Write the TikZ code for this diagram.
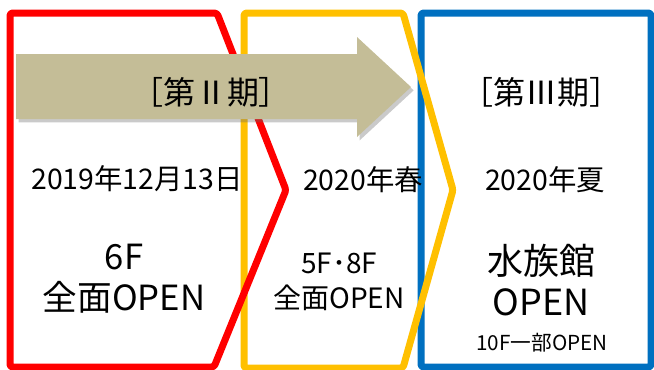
\documentclass[tikz,border=0pt]{standalone}
\usepackage{fontspec}
\setmainfont{Noto Sans CJK JP}
\usepackage{tikz}
\usetikzlibrary{shadows}
\definecolor{phaseRed}{HTML}{FF0000}
\definecolor{phaseYellow}{HTML}{FFC000}
\definecolor{phaseBlue}{HTML}{0070C0}
\definecolor{arrowTan}{HTML}{C4BD97}

\begin{document}
\begin{tikzpicture}[x=0.75pt,y=0.75pt,yscale=-1,xscale=1,
    frame/.style={line width=5.25pt,rounded corners=2pt,line join=round},
    lbl/.style={inner sep=0.75pt,align=center,text=black}]
    \useasboundingbox (0,0) rectangle (654,369);

    %Shape: Rectangle (phase III)
    \draw [frame,draw=phaseBlue,fill=white] (421,13) -- (651,13) -- (651,367) -- (421,367) -- cycle ;
    %Shape: Chevron (phase 2020 spring)
    \draw [frame,draw=phaseYellow] (244,13) -- (403,13) -- (453,190) -- (403,368) -- (244,368) -- cycle ;
    %Shape: Chevron (phase 2019)
    \draw [frame,draw=phaseRed] (10,13) -- (217,13) -- (286,190) -- (214,367) -- (10,367) -- cycle ;
    %Shape: Right Arrow
    \fill [arrowTan,drop shadow={shadow xshift=2pt,shadow yshift=-2.5pt,opacity=0.35,fill=black!60}] (16,54) -- (357,54) -- (357,37) -- (411,87) -- (357,137) -- (357,119) -- (16,119) -- cycle ;

    % Text Node
    \draw (211,92) node (phaseII) [lbl,font=\fontsize{24}{28}\selectfont] {［第Ⅱ期］};
    % Text Node
    \draw (541,92) node (phaseIII) [lbl,font=\fontsize{24}{28}\selectfont] {［第Ⅲ期］};
    % Text Node
    \draw (137,179) node (dateA) [lbl,font=\fontsize{21.3}{25}\selectfont] {2019年12月13日};
    % Text Node
    \draw (363,180) node (dateB) [lbl,font=\fontsize{21.3}{25}\selectfont] {2020年春};
    % Text Node
    \draw (545,180) node (dateC) [lbl,font=\fontsize{21.3}{25}\selectfont] {2020年夏};
    % Text Node
    \draw (124,279) node (openA) [lbl,font=\fontsize{26}{31}\selectfont] {6F\\全面OPEN};
    % Text Node
    \draw (339,282) node (openB) [lbl,font=\fontsize{21}{26}\selectfont] {5F･8F\\全面OPEN};
    % Text Node
    \draw (541,280) node (openC) [lbl,font=\fontsize{27}{31}\selectfont] {水族館\\OPEN};
    % Text Node
    \draw (542,343) node (openD) [lbl,font=\fontsize{15.5}{18}\selectfont] {10F一部OPEN};

\end{tikzpicture}
\end{document}
